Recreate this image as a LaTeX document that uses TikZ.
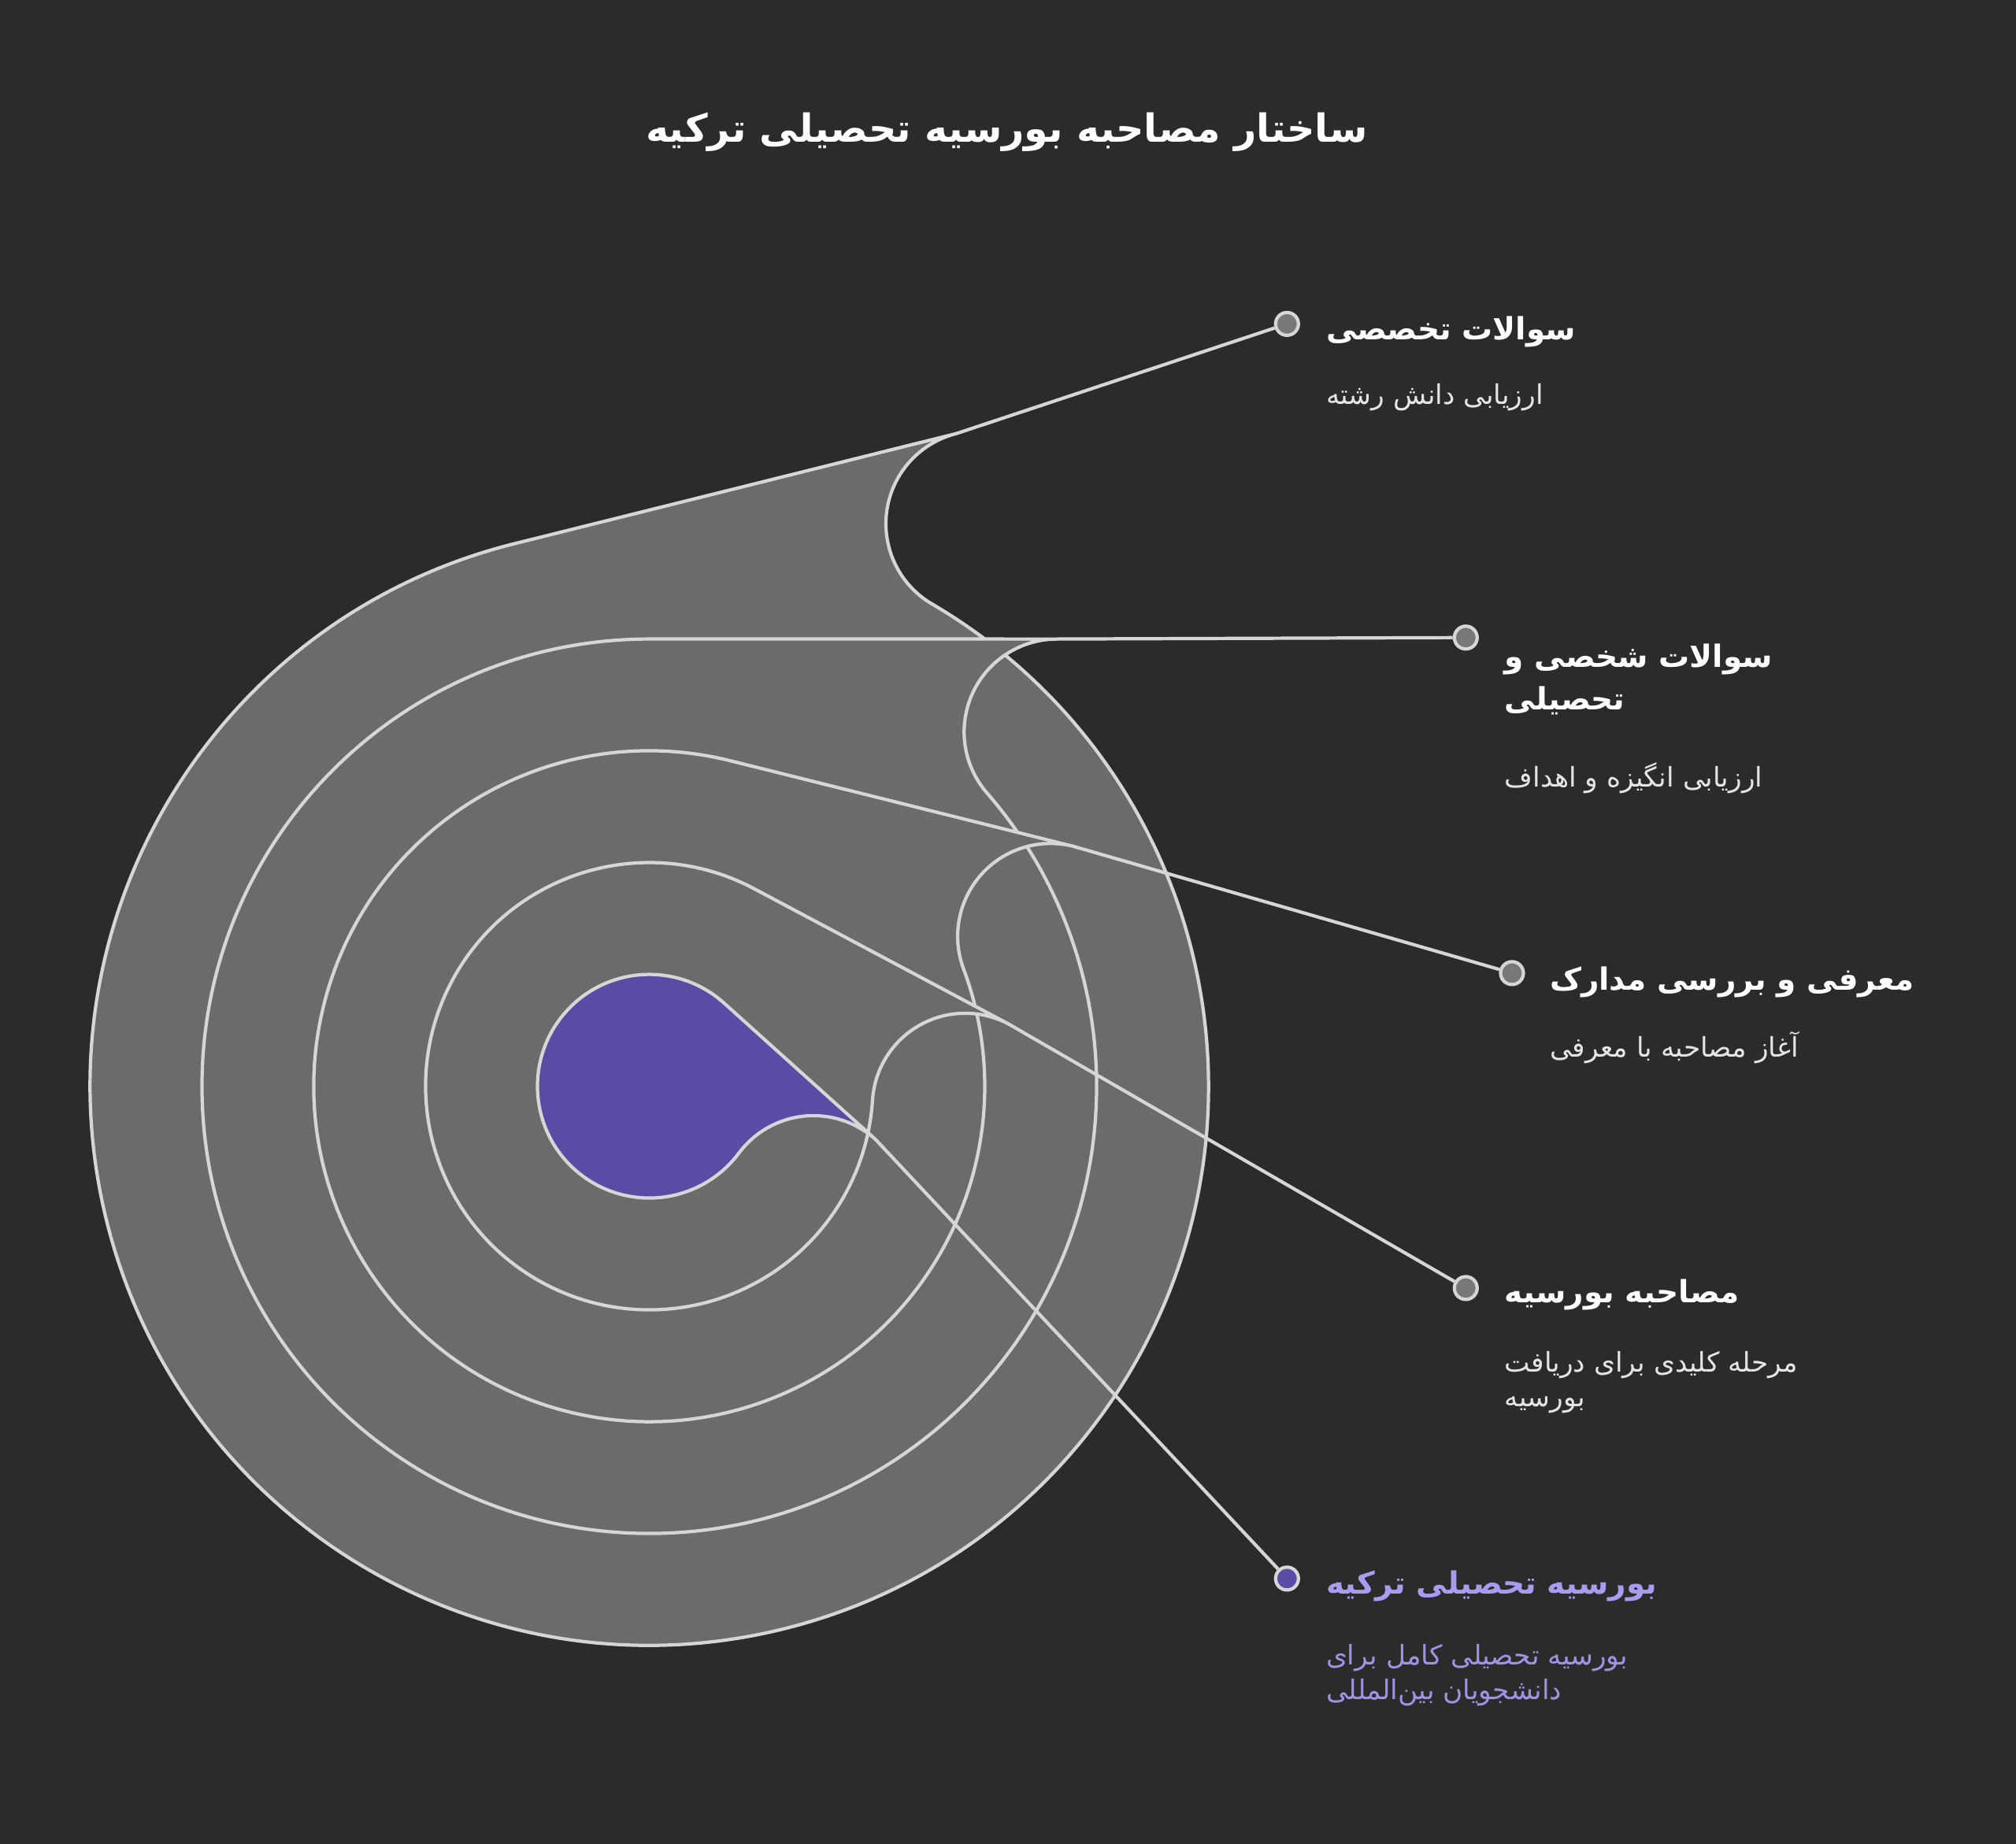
\documentclass[tikz,border=0pt]{standalone}
\usepackage{fontspec}
\usetikzlibrary{calc,positioning}
\newfontfamily\arabicfont[Script=Arabic]{DejaVu Sans}
\TeXXeTstate=1

\definecolor{bgdark}{RGB}{43,43,43}
\definecolor{ringgray}{RGB}{107,107,107}
\definecolor{edgegray}{RGB}{214,214,214}
\definecolor{dotgray}{RGB}{120,120,120}
\definecolor{corepurple}{RGB}{91,75,165}
\definecolor{headpurple}{RGB}{170,155,240}
\definecolor{subpurple}{RGB}{160,146,228}

\tikzset{
    layer/.style={draw=edgegray, line width=1.2pt, fill=ringgray, line join=round},
    link/.style={draw=edgegray, line width=1.2pt},
    dot/.style={circle, draw=edgegray, fill=dotgray, line width=1.2pt, minimum size=0.29cm, inner sep=0pt},
    head/.style={font=\arabicfont\bfseries\fontsize{11.1}{15.3}\selectfont, text=white, inner sep=0pt, align=left, anchor=west},
    sub/.style={font=\arabicfont\fontsize{9.8}{12.4}\selectfont, text=white!90!black, inner sep=0pt, align=left, anchor=west}
}

\begin{document}
\begin{tikzpicture}
    \fill[bgdark] (-8.245,-9.624) rectangle (17.355,13.796);
    \useasboundingbox (-8.245,-9.624) rectangle (17.355,13.796);

    % nested drops, outermost first
    \draw[layer] (104:7.10) arc[start angle=104, end angle=419.64, radius=7.10]
        arc[start angle=239.64, end angle=104, radius=1.18] -- cycle;
    \draw[layer] (90:5.68) arc[start angle=90, end angle=400.99, radius=5.68]
        arc[start angle=220.99, end angle=90, radius=1.18] -- cycle;
    \draw[layer] (76:4.26) arc[start angle=76, end angle=380.48, radius=4.26]
        arc[start angle=200.48, end angle=76, radius=1.18] -- cycle;
    \draw[layer] (62:2.84) arc[start angle=62, end angle=356.39, radius=2.84]
        arc[start angle=176.39, end angle=62, radius=1.18] -- cycle;
    \draw[layer, fill=corepurple] (48:1.42) arc[start angle=48, end angle=323.30, radius=1.42]
        arc[start angle=143.30, end angle=48, radius=1.18] -- cycle;

    % tips of the drops
    \coordinate (tip5) at ($(59.64:8.28)+(104:1.18)$);
    \coordinate (tip4) at ($(40.99:6.86)+(90:1.18)$);
    \coordinate (tip3) at ($(20.48:5.44)+(76:1.18)$);
    \coordinate (tip2) at ($(-3.61:4.02)+(62:1.18)$);
    \coordinate (tip1) at ($(-36.70:2.60)+(48:1.18)$);

    \node[dot] (d5) at (8.098,9.682) {};
    \node[dot] (d4) at (10.368,5.698) {};
    \node[dot] (d3) at (10.955,1.437) {};
    \node[dot] (d2) at (10.368,-2.563) {};
    \node[dot, fill=corepurple] (d1) at (8.098,-6.253) {};

    \draw[link] (tip5) -- (d5);
    \draw[link] (tip4) -- (d4);
    \draw[link] (tip3) -- (d3);
    \draw[link] (tip2) -- (d2);
    \draw[link] (tip1) -- (d1);

    % labels
    \node[head] (h5) at (8.588,9.584) {\beginR سوالات تخصصی\endR};
    \node[sub] (s5) at (8.588,8.751) {\beginR ارزیابی دانش رشته\endR};

    \node[head] (h4) at (10.857,5.168) {\beginR سوالات شخصی و\endR\\\beginR تحصیلی\endR};
    \node[sub] (s4) at (10.857,3.918) {\beginR ارزیابی انگیزه و اهداف\endR};

    \node[head] (h3) at (11.429,1.322) {\beginR معرفی و بررسی مدارک\endR};
    \node[sub] (s3) at (11.429,0.490) {\beginR آغاز مصاحبه با معرفی\endR};

    \node[head] (h2) at (10.857,-2.645) {\beginR مصاحبه بورسیه\endR};
    \node[sub] (s2) at (10.857,-3.763) {\beginR مرحله کلیدی برای دریافت\endR\\\beginR بورسیه\endR};

    \node[head, text=headpurple] (h1) at (8.588,-6.351) {\beginR بورسیه تحصیلی ترکیه\endR};
    \node[sub, text=subpurple] (s1) at (8.588,-7.478) {\beginR بورسیه تحصیلی کامل برای\endR\\\beginR دانشجویان بین‌المللی\endR};

    \node[font=\arabicfont\bfseries\fontsize{14}{17}\selectfont, text=white, inner sep=0pt] (title) at (4.539,12.115) {\beginR ساختار مصاحبه بورسیه تحصیلی ترکیه\endR};
\end{tikzpicture}
\end{document}
